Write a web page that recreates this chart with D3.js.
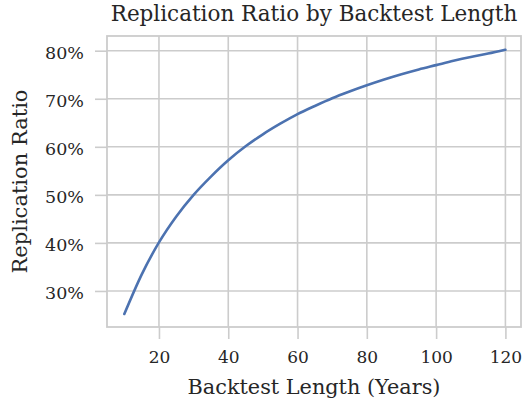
<!DOCTYPE html>
<html>
<head>
<meta charset="utf-8">
<script src="https://cdn.jsdelivr.net/npm/d3@7"></script>
<style>
  html, body { margin: 0; padding: 0; background: #ffffff; }
  svg { display: block; }
  text { font-family: "DejaVu Serif", "Liberation Serif", serif; fill: #262626; }
</style>
</head>
<body>
<svg id="chart" width="522" height="403"></svg>
<script>
// Data
const years = [10, 15, 20, 25, 30, 35, 40, 45, 50, 55, 60, 65, 70, 75, 80, 85, 90, 95, 100, 105, 110, 115, 120];
const ratio = [0.252, 0.334, 0.401, 0.455, 0.500, 0.538, 0.572, 0.601, 0.626, 0.648, 0.668, 0.685, 0.701, 0.715, 0.728, 0.740, 0.751, 0.761, 0.770, 0.779, 0.787, 0.794, 0.802];
const xTicks = [20, 40, 60, 80, 100, 120];
const yTicks = [0.3, 0.4, 0.5, 0.6, 0.7, 0.8];
const titleText = "Replication Ratio by Backtest Length";
const xLabel = "Backtest Length (Years)";
const yLabel = "Replication Ratio";

const svg = d3.select("#chart");
const mLeft = 107, mRight = 521, mTop = 36, mBottom = 327;
const gridColor = "#cccccc";

const x = d3.scaleLinear().domain([5, 124.5]).range([mLeft, mRight]);
const y = d3.scaleLinear().domain([0.225, 0.8306]).range([mBottom, mTop]);

// gridlines
const grid = svg.append("g");
grid.selectAll("line.vx").data(xTicks).join("line")
  .attr("x1", d => x(d)).attr("x2", d => x(d))
  .attr("y1", mTop).attr("y2", mBottom)
  .attr("stroke", gridColor).attr("stroke-width", 1.6);
grid.selectAll("line.hy").data(yTicks).join("line")
  .attr("x1", mLeft).attr("x2", mRight)
  .attr("y1", d => y(d)).attr("y2", d => y(d))
  .attr("stroke", gridColor).attr("stroke-width", 1.6);

// axes
const xAxis = d3.axisBottom(x).tickValues(xTicks).tickSize(12).tickPadding(11).tickFormat(d3.format("d"));
const gx = svg.append("g").attr("transform", `translate(0,${mBottom})`).call(xAxis);
gx.select(".domain").remove();
gx.selectAll(".tick line").attr("stroke", gridColor).attr("stroke-width", 1.6);
gx.selectAll(".tick text").attr("font-size", "17px").attr("fill", "#262626")
  .attr("font-family", "DejaVu Serif, serif").attr("dy", null).attr("y", 36.3);

const yAxis = d3.axisLeft(y).tickValues(yTicks).tickSize(12).tickPadding(10).tickFormat(d => Math.round(d * 100) + "%");
const gy = svg.append("g").attr("transform", `translate(${mLeft},0)`).call(yAxis);
gy.select(".domain").remove();
gy.selectAll(".tick line").attr("stroke", gridColor).attr("stroke-width", 1.6);
gy.selectAll(".tick text").attr("font-size", "17.5px").attr("fill", "#262626")
  .attr("font-family", "DejaVu Serif, serif").attr("dy", null).attr("y", 8).attr("x", -23);

// frame
svg.append("rect").attr("x", mLeft).attr("y", mTop)
  .attr("width", mRight - mLeft).attr("height", mBottom - mTop)
  .attr("fill", "none").attr("stroke", gridColor).attr("stroke-width", 1.8);

// line
const line = d3.line().x((d, i) => x(years[i])).y(d => y(d)).curve(d3.curveMonotoneX);
svg.append("path").datum(ratio)
  .attr("d", line).attr("fill", "none")
  .attr("stroke", "#4c72b0").attr("stroke-width", 2.6)
  .attr("stroke-linecap", "round");

// title and labels
svg.append("text").attr("x", (mLeft + mRight) / 2).attr("y", 21)
  .attr("text-anchor", "middle").attr("font-size", "21.5px").text(titleText);
svg.append("text").attr("x", (mLeft + mRight) / 2).attr("y", 394)
  .attr("text-anchor", "middle").attr("font-size", "20.8px").text(xLabel);
svg.append("text").attr("transform", `translate(27,${(mTop + mBottom) / 2}) rotate(-90)`)
  .attr("text-anchor", "middle").attr("font-size", "21px").text(yLabel);
</script>
</body>
</html>
